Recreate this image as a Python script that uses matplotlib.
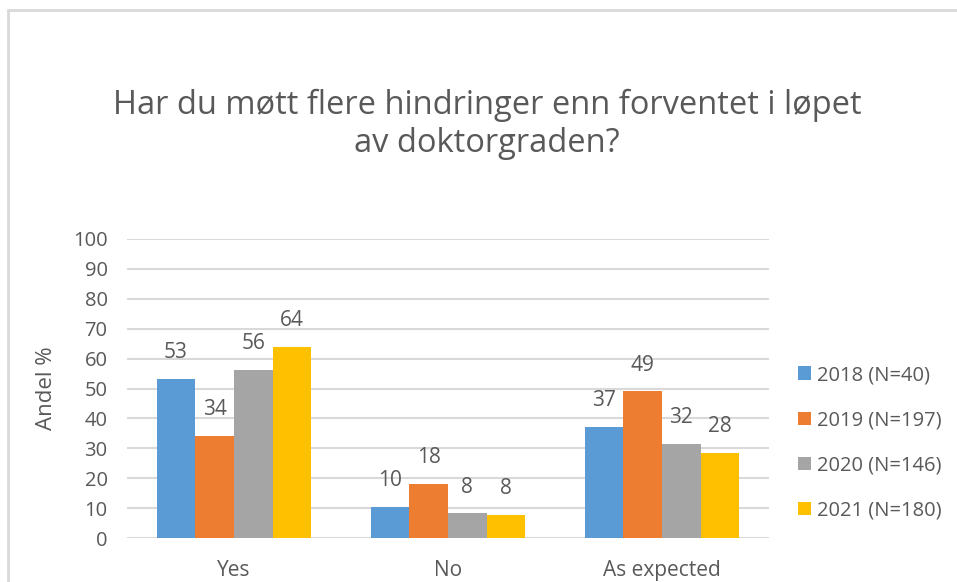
import numpy as np
import matplotlib.pyplot as plt
from matplotlib.patches import Rectangle

# Data
categories = ['Yes', 'No', 'As expected']
series = ['2018 (N=40)', '2019 (N=197)', '2020 (N=146)', '2021 (N=180)']
v2018 = [53.2, 10.3, 37.0]
v2019 = [34.0, 18.0, 49.0]
v2020 = [56.2, 8.2, 31.6]
v2021 = [64.0, 7.7, 28.3]
values = [v2018, v2019, v2020, v2021]
colors = ['#5B9BD5', '#ED7D31', '#A5A5A5', '#FFC000']
yticks = list(range(0, 101, 10))

txt = '#595959'
plt.rcParams['font.family'] = ['Open Sans', 'DejaVu Sans']

fig = plt.figure(figsize=(9.57, 5.82), dpi=100)
ax = fig.add_axes([127 / 957, 1 - 538 / 582, 642 / 957, 299 / 582])

# Chart border (Excel chart frame)
fig.patches.append(Rectangle((8 / 957, -0.1), 2, 1 - 10 / 582 + 0.1,
                             transform=fig.transFigure, fill=False,
                             edgecolor='#d9d9d9', linewidth=2))

x = np.arange(len(categories))
w = 0.181
for i, (vals, col) in enumerate(zip(values, colors)):
    pos = x + (i - 1.5) * w
    ax.bar(pos, vals, width=w, color=col, label=series[i], zorder=3)
    for px, v in zip(pos, vals):
        ax.annotate(f'{v:.0f}', (px, v), xytext=(0, 19), textcoords='offset points',
                    ha='center', va='center', fontsize=15, color=txt)

ax.set_xlim(-0.5, 2.5)
ax.set_ylim(0, 100)
ax.set_yticks(yticks)
ax.set_xticks(x)
ax.set_xticklabels(categories)
ax.grid(axis='y', color='#d9d9d9', linewidth=1.5, zorder=0)
for s in ax.spines.values():
    s.set_visible(False)
ax.tick_params(length=0, labelcolor=txt)
ax.tick_params(axis='y', labelsize=14.5, pad=14)
ax.tick_params(axis='x', labelsize=15, pad=16)
ax.set_ylabel('Andel %', fontsize=16, color=txt)
ax.yaxis.label.set_verticalalignment('center')
ax.yaxis.set_label_coords(-0.125, 0.5)

fig.text(487 / 957, 1 - 124 / 582, 'Har du møtt flere hindringer enn forventet i løpet\nav doktorgraden?',
         ha='center', va='center', fontsize=23.5, color=txt, linespacing=1.2)

fig.legend(loc='center left', bbox_to_anchor=(780 / 957, 1 - 443 / 582),
           bbox_transform=fig.transFigure, frameon=False, fontsize=14.5,
           labelcolor=txt, handlelength=0.65, handleheight=0.65,
           handletextpad=0.3, labelspacing=1.25)

fig.savefig('out.png', dpi=100, facecolor='white')
